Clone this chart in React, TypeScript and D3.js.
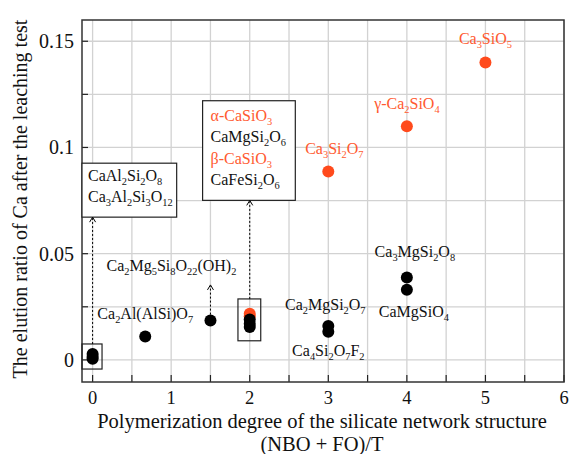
import React from "react";
import * as d3 from "d3";

const blackX = [0, 0, 0, 0.67, 1.5, 2, 2, 2, 3, 3, 4, 4];
const blackY = [0.0005, 0.0015, 0.0028, 0.011, 0.0185, 0.019, 0.017, 0.0155, 0.016, 0.0132, 0.0388, 0.033];
const redX = [2, 2, 3, 4, 5];
const redY = [0.0217, 0.0205, 0.0887, 0.11, 0.14];

const xTicks = [0, 1, 2, 3, 4, 5, 6];
const yTicks = [0, 0.05, 0.1, 0.15];
const yTickLabels = ["0", "0.05", "0.1", "0.15"];

const pointLabels = [
  { t: "Ca3SiO5", x: 5, y: 0.14, red: true, dx: 0, dy: -18 },
  { t: "γ-Ca2SiO4", x: 4, y: 0.11, red: true, dx: 0, dy: -17 },
  { t: "Ca3Si2O7", x: 3, y: 0.0887, red: true, dx: 6, dy: -17 },
  { t: "Ca3MgSi2O8", x: 4, y: 0.0388, red: false, dx: 8, dy: -20 },
  { t: "CaMgSiO4", x: 4, y: 0.033, red: false, dx: 7, dy: 27 },
  { t: "Ca2MgSi2O7", x: 3, y: 0.016, red: false, dx: -3, dy: -16 },
  { t: "Ca4Si2O7F2", x: 3, y: 0.0132, red: false, dx: 0, dy: 24 },
  { t: "Ca2Mg5Si8O22(OH)2", x: 1.5, y: 0.0185, red: false, dx: -39, dy: -50 },
  { t: "Ca2Al(AlSi)O7", x: 0.67, y: 0.011, red: false, dx: 0, dy: -18 },
];

const leftBoxLabels = ["CaAl2Si2O8", "Ca3Al2Si3O12"];
const midBoxLabels = ["α-CaSiO3", "CaMgSi2O6", "β-CaSiO3", "CaFeSi2O6"];
const midBoxRed = [true, false, true, false];

const W = 571;
const H = 454;
const RED = "#ff4a1c";
const RED_TEXT = "#ff5a30";
const FONT = '"Liberation Serif", "Times New Roman", "DejaVu Serif", serif';
const fst = { fontFamily: FONT };

function Formula({ text, x, y, fill, anchor = "start", size = 16 }: any) {
  const parts: { s: string; sub: boolean }[] = [];
  for (const ch of text) {
    const sub = /[0-9]/.test(ch);
    const last = parts[parts.length - 1];
    if (last && last.sub === sub) last.s += ch;
    else parts.push({ s: ch, sub });
  }
  const shift = 4;
  let cur = 0;
  return (
    <text x={x} y={y} fill={fill} textAnchor={anchor} fontSize={size} style={fst}>
      {parts.map((p, i) => {
        const target = p.sub ? shift : 0;
        const dy = target - cur;
        cur = target;
        return (
          <tspan key={i} dy={dy} fontSize={p.sub ? size * 0.65 : size}>
            {p.s}
          </tspan>
        );
      })}
    </text>
  );
}

function Arrow({ x, y1, y2 }: any) {
  return (
    <g>
      <line x1={x} x2={x} y1={y1} y2={y2 + 1} stroke="#000" strokeWidth={1} strokeDasharray="2,2" />
      <path d={`M${x - 3},${y2 + 5} L${x},${y2} L${x + 3},${y2 + 5}`} fill="none" stroke="#000" strokeWidth={1} />
    </g>
  );
}

export default function App() {
  const L = 82, R = 564, T = 20, B = 382;
  const x = d3.scaleLinear().domain([-0.135, 6]).range([L, R]);
  const y = d3.scaleLinear().domain([-0.0104, 0.16]).range([B, T]);

  const xGrid = d3.range(0, 6.01, 0.5);
  const yGrid = d3.range(0, 0.1601, 0.025);

  const r = 6;

  return (
    <div style={{ position: "absolute", left: 0, top: 0 }}>
      <svg width={W} height={H} style={{ display: "block", background: "#fff", fontFamily: FONT }}>
        {xGrid.map((v) => (
          <line key={"gx" + v} x1={x(v)} x2={x(v)} y1={T} y2={B} stroke="#d2d2d2" strokeWidth={1.3} />
        ))}
        {yGrid.map((v) => (
          <line key={"gy" + v} x1={L} x2={R} y1={y(v)} y2={y(v)} stroke="#d2d2d2" strokeWidth={1.3} />
        ))}
        {xGrid.map((v) => (
          <line key={"tx" + v} x1={x(v)} x2={x(v)} y1={B} y2={B - 7} stroke="#222" strokeWidth={1.2} />
        ))}
        {yGrid.map((v) => (
          <line key={"ty" + v} x1={L} x2={L + 6} y1={y(v)} y2={y(v)} stroke="#222" strokeWidth={1.2} />
        ))}
        <rect x={L} y={T} width={R - L} height={B - T} fill="none" stroke="#333" strokeWidth={1.5} />

        {xTicks.map((v) => (
          <text key={"xl" + v} x={x(v)} y={404} textAnchor="middle" fontSize={18.5} style={fst} fill="#111">
            {v}
          </text>
        ))}
        {yTicks.map((v, i) => (
          <text key={"yl" + v} x={74} y={y(v) + 7} textAnchor="end" fontSize={20} style={fst} fill="#111">
            {yTickLabels[i]}
          </text>
        ))}

        <text x={322} y={427.5} textAnchor="middle" fontSize={20.5} style={fst} fill="#111">
          Polymerization degree of the silicate network structure
        </text>
        <text x={322} y={451} textAnchor="middle" fontSize={20.5} style={fst} fill="#111">
          (NBO + FO)/T
        </text>
        <text
          transform={`translate(27,199) rotate(-90)`}
          textAnchor="middle"
          fontSize={20}
          style={fst}
          fill="#111"
        >
          The elution ratio of Ca after the leaching test
        </text>

        <rect x={x(-0.135)} y={y(0.0075)} width={x(0.12) - x(-0.135)} height={y(-0.0043) - y(0.0075)} fill="none" stroke="#222" strokeWidth={1.2} />
        <rect x={x(1.85)} y={y(0.0287)} width={x(2.14) - x(1.85)} height={y(0.0090) - y(0.0287)} fill="none" stroke="#222" strokeWidth={1.2} />
        <rect x={x(-0.135)} y={y(0.0926)} width={x(1.07) - x(-0.135)} height={y(0.0672) - y(0.0926)} fill="#fff" stroke="#222" strokeWidth={1.2} />
        <rect x={x(1.4)} y={y(0.122)} width={x(2.58) - x(1.4)} height={y(0.0751) - y(0.122)} fill="#fff" stroke="#222" strokeWidth={1.2} />

        <Arrow x={x(0)} y1={y(0.0075)} y2={y(0.0672)} />
        <Arrow x={x(2)} y1={y(0.0287)} y2={y(0.0751)} />
        <Arrow x={x(1.5)} y1={y(0.0185) - r} y2={y(0.0353)} />

        {leftBoxLabels.map((t, i) => (
          <Formula key={t} text={t} x={x(-0.135) + 6} y={181 + i * 21} fill="#111" />
        ))}
        {midBoxLabels.map((t, i) => (
          <Formula key={t} text={t} x={x(1.4) + 8} y={120.5 + i * 21.5} fill={midBoxRed[i] ? RED_TEXT : "#111"} />
        ))}

        {redX.map((v, i) => (
          <circle key={"r" + i} cx={x(v)} cy={y(redY[i])} r={r} fill={RED} />
        ))}
        {blackX.map((v, i) => (
          <circle key={"b" + i} cx={x(v)} cy={y(blackY[i])} r={r} fill="#000" />
        ))}

        {pointLabels.map((p) => (
          <Formula
            key={p.t}
            text={p.t}
            x={x(p.x) + p.dx}
            y={y(p.y) + p.dy}
            anchor="middle"
            fill={p.red ? RED_TEXT : "#111"}
          />
        ))}
      </svg>
    </div>
  );
}
